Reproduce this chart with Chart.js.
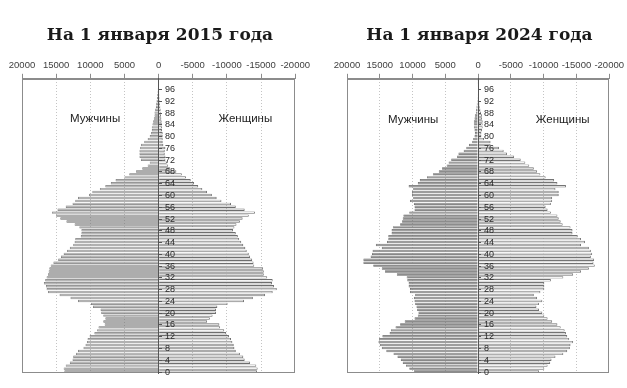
<!DOCTYPE html>
<html lang="ru">
<head>
<meta charset="utf-8">
<title>Половозрастная пирамида</title>
<script src="https://cdn.jsdelivr.net/npm/chart.js@4.4.1/dist/chart.umd.min.js"></script>
<style>
    html, body { margin: 0; padding: 0; background: #fff; }
    .wrap { position: relative; width: 627px; height: 388px; overflow: hidden; }
    canvas { position: absolute; top: 0; }
    #pyramid2015 { left: 0; }
    #pyramid2024 { left: 313px; }
</style>
</head>
<body>
<div class="wrap">
    <canvas id="pyramid2015" width="313" height="388"></canvas>
    <canvas id="pyramid2024" width="314" height="388"></canvas>
</div>
<script>
// Age groups 0..99 (one bar per year of age)
const ages = Array.from({ length: 100 }, (_, i) => i);
const ageLabelStep = 4;
const xTickValues = [20000, 15000, 10000, 5000, 0, -5000, -10000, -15000, -20000];

// Population by age, people
const male2015 = [
    13800, 13900, 13600, 13000, 12600, 12500, 12100, 11800, 11000, 10700,
    10500, 10400, 10100, 9400, 9000, 8800, 7900, 8100, 7800, 8100,
    8400, 8500, 9600, 9900, 11800, 12900, 14500, 16200, 16400, 16500,
    16800, 16600, 16400, 16200, 16100, 16000, 15800, 15400, 14700, 14300,
    13900, 13400, 13000, 12500, 12300, 12200, 11400, 11300, 11300, 11600,
    12300, 13500, 14400, 15000, 15600, 14800, 13600, 12600, 12200, 11800,
    10200, 9700, 8600, 7800, 7000, 6300, 5000, 4300, 3300, 2400,
    1600, 1300, 2600, 2800, 2800, 2800, 2700, 2600, 2100, 1600,
    1300, 1100, 1000, 1000, 900, 800, 700, 600, 600, 500,
    400, 350, 300, 250, 200, 150, 120, 100, 70, 50
];
const female2015 = [
    14400, 14500, 14300, 13400, 12600, 12400, 11900, 11300, 11100, 11000,
    10800, 10600, 10300, 9900, 9600, 9000, 8900, 7100, 7500, 7900,
    8400, 8400, 8600, 10100, 12500, 13800, 15600, 16700, 17300, 16900,
    16600, 16700, 15900, 15400, 15400, 15300, 14000, 13900, 13700, 13400,
    13200, 12900, 12700, 12400, 12100, 11800, 11600, 11300, 10900, 11100,
    11400, 11900, 12300, 13200, 14100, 12600, 11300, 10600, 9200, 8500,
    7800, 7100, 6400, 5800, 5200, 4700, 4000, 3400, 2600, 1700,
    1400, 1200, 1000, 1000, 900, 900, 1000, 700, 600, 600,
    600, 600, 500, 500, 500, 450, 400, 350, 300, 300,
    250, 200, 180, 150, 120, 100, 80, 60, 50, 30
];
const male2024 = [
    9800, 10500, 11000, 11500, 11800, 12300, 12900, 14000, 14700, 15000,
    15200, 15100, 14600, 13500, 13300, 12600, 11900, 11200, 9700, 9200,
    9100, 9300, 9400, 9600, 9700, 9800, 9600, 10400, 10400, 10600,
    10600, 10800, 10900, 12400, 14200, 14700, 16000, 17500, 17500, 16400,
    16200, 16100, 14700, 15600, 13900, 13700, 13700, 13200, 13200, 13000,
    11900, 11600, 11500, 11400, 10500, 9700, 9700, 9800, 10400, 9900,
    10100, 10100, 9900, 10600, 9200, 8900, 7800, 6900, 6000, 5500,
    4800, 4500, 4100, 3200, 3000, 2200, 1800, 1400, 900, 750,
    550, 500, 550, 650, 650, 650, 550, 500, 350, 300,
    250, 200, 150, 120, 100, 80, 60, 50, 40, 30
];
const female2024 = [
    9300, 10100, 10600, 11000, 11200, 11800, 13000, 13600, 14000, 14100,
    14500, 13900, 13600, 13400, 13200, 12600, 12100, 11300, 10600, 10100,
    9800, 9300, 8900, 9300, 9800, 9000, 8500, 9500, 10100, 10100,
    10100, 11100, 13000, 14500, 15700, 16900, 17800, 17600, 17700, 17200,
    17400, 17200, 16900, 15700, 16300, 15700, 15200, 14400, 14400, 14100,
    12900, 12600, 12300, 12100, 11100, 10600, 10300, 11100, 11300, 11300,
    12300, 12300, 11800, 13400, 12100, 11600, 10300, 9500, 9000, 8500,
    7800, 7200, 6500, 5500, 4400, 3900, 3200, 1900, 1900, 900,
    500, 500, 600, 700, 700, 700, 600, 600, 450, 350,
    250, 200, 150, 120, 100, 80, 60, 50, 40, 30
];

const sansFont = '"Liberation Sans", Arial, sans-serif';

// Frame, age labels on the centre axis and the "men / women" captions
const pyramidDecor = {
    id: 'pyramidDecor',
    afterDatasetsDraw(chart, args, opts) {
        const { ctx, chartArea: a, scales: { x, y } } = chart;
        ctx.save();
        ctx.strokeStyle = opts.frameColor;
        ctx.lineWidth = 1;
        ctx.strokeRect(Math.round(a.left) + 0.5, Math.round(a.top) + 0.5,
            Math.round(a.right) - Math.round(a.left) - 1, Math.round(a.bottom) - Math.round(a.top) - 1);

        const x0 = Math.round(x.getPixelForValue(0));
        ctx.font = '9px ' + sansFont;
        ctx.fillStyle = '#2a2a2a';
        ctx.textAlign = 'left';
        ctx.textBaseline = 'middle';
        ctx.strokeStyle = '#555';
        ages.forEach((age, i) => {
            if (age % ageLabelStep !== 0) return;
            const py = Math.round(y.getPixelForValue(i));
            ctx.beginPath();
            ctx.moveTo(x0, py + 0.5);
            ctx.lineTo(x0 + 3, py + 0.5);
            ctx.stroke();
            ctx.fillText(String(age), x0 + 6, py + 1);
        });

        ctx.font = '11.5px ' + sansFont;
        ctx.fillStyle = '#222';
        ctx.textAlign = 'center';
        ctx.fillText('Мужчины', x.getPixelForValue(opts.maleAt[0]), y.getPixelForValue(opts.maleAt[1]));
        ctx.fillText('Женщины', x.getPixelForValue(opts.femaleAt[0]), y.getPixelForValue(opts.femaleAt[1]));
        ctx.restore();
    }
};

function drawPyramid(canvasId, title, male, female, look) {
    const ctx = document.getElementById(canvasId).getContext('2d');
    return new Chart(ctx, {
        type: 'bar',
        data: {
            labels: ages,
            datasets: [{
                label: 'Мужчины',
                data: male,
                backgroundColor: look.male,
                borderColor: look.maleBorder,
                borderWidth: 0.7,
                barPercentage: 0.82,
                categoryPercentage: 1
            }, {
                label: 'Женщины',
                data: female.map(v => -v),
                backgroundColor: '#fbfbfb',
                borderColor: look.femaleBorder,
                borderWidth: 0.9,
                barPercentage: 0.82,
                categoryPercentage: 1
            }]
        },
        options: {
            indexAxis: 'y',
            responsive: false,
            animation: false,
            layout: { padding: { top: 0, left: look.padLeft, right: 15, bottom: 15 } },
            plugins: {
                legend: { display: false },
                tooltip: { enabled: false },
                title: {
                    display: true,
                    text: title,
                    color: '#1a1a1a',
                    font: { family: '"DejaVu Serif", serif', size: 17, weight: 'bold' },
                    padding: { top: 25, bottom: 11 }
                },
                pyramidDecor: {
                    frameColor: '#8c8c8c',
                    maleAt: look.maleAt,
                    femaleAt: look.femaleAt
                }
            },
            scales: {
                x: {
                    position: 'top',
                    reverse: true,
                    stacked: true,
                    min: -20000,
                    max: 20000,
                    afterBuildTicks: scale => {
                        scale.ticks = xTickValues.map(v => ({ value: v }));
                    },
                    ticks: {
                        callback: value => String(value),
                        color: '#404040',
                        font: { family: '"Liberation Sans Narrow", ' + sansFont, size: 9.5 },
                        padding: 3,
                        maxRotation: 0,
                        autoSkip: false
                    },
                    grid: {
                        color: c => (c.tick && (c.tick.value === 0 || Math.abs(c.tick.value) === 20000)) ? 'rgba(0,0,0,0)' : '#c4c4c4',
                        tickColor: '#8c8c8c',
                        tickLength: 5,
                        tickBorderDash: []
                    },
                    border: { color: '#8c8c8c', dash: [1, 2] }
                },
                y: {
                    type: 'category',
                    reverse: true,
                    stacked: true,
                    position: { x: 0 },
                    ticks: { display: false },
                    grid: { display: false },
                    border: { color: '#555555', width: 1, z: 1 }
                }
            }
        },
        plugins: [pyramidDecor]
    });
}

drawPyramid('pyramid2015', 'На 1 января 2015 года', male2015, female2015, {
    male: '#adadad', maleBorder: '#6e6e6e', femaleBorder: '#6e6e6e',
    padLeft: 22, maleAt: [9300, 85.8], femaleAt: [-12700, 85.8]
});
drawPyramid('pyramid2024', 'На 1 января 2024 года', male2024, female2024, {
    male: '#8c8c8c', maleBorder: '#626262', femaleBorder: '#747474',
    padLeft: 34, maleAt: [9900, 85.5], femaleAt: [-12900, 85.5]
});
</script>
</body>
</html>
